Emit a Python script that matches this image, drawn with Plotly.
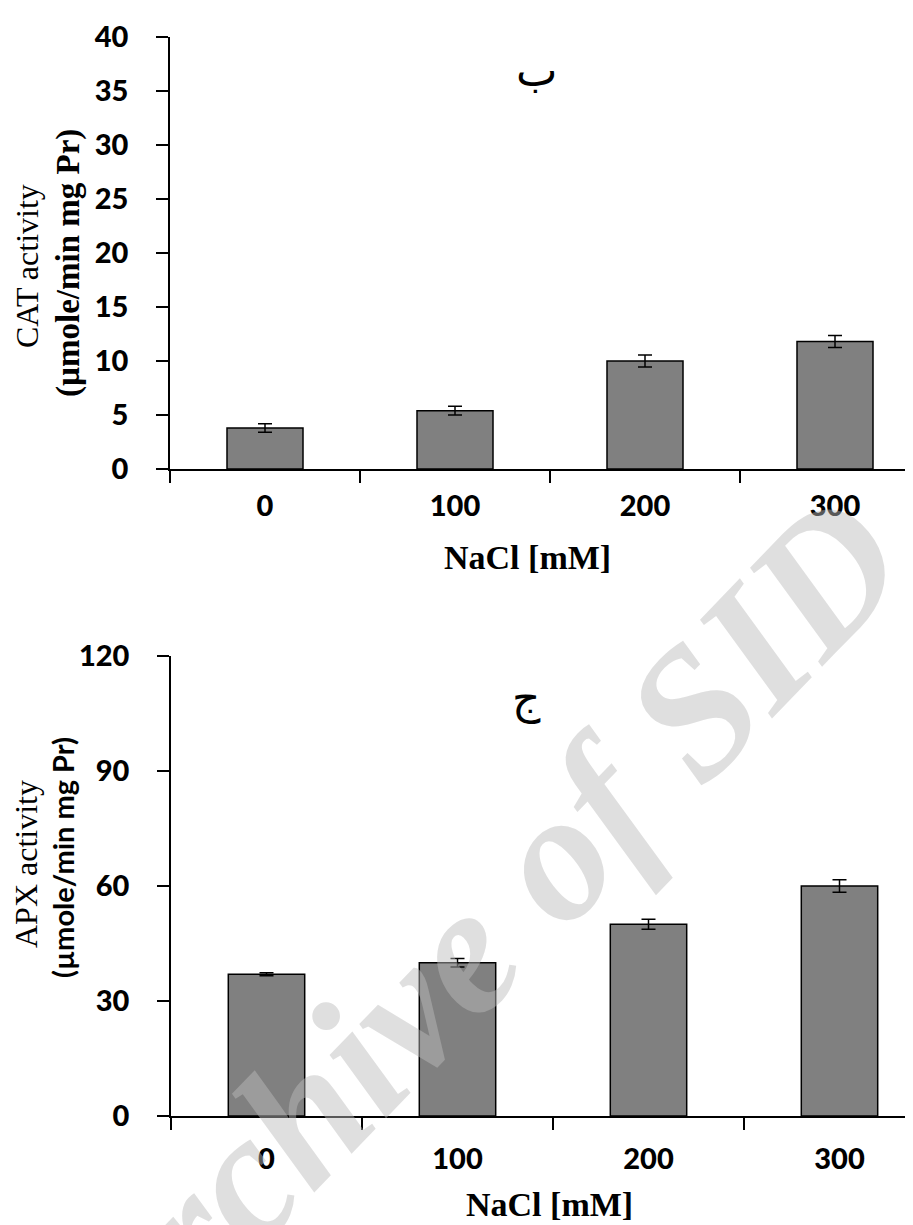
import plotly.graph_objects as go

W, H = 913, 1225

# ---- data ----
nacl = ["0", "100", "200", "300"]
cat_activity = [3.8, 5.4, 10.0, 11.8]
cat_err = [0.4, 0.4, 0.55, 0.55]
apx_activity = [37.0, 40.0, 50.0, 60.0]
apx_err = [0.4, 1.1, 1.3, 1.6]
cat_yticks = [0, 5, 10, 15, 20, 25, 30, 35, 40]
apx_yticks = [0, 30, 60, 90, 120]

BAR = "#808080"
tickfont = dict(family="Lato", size=29, color="black", weight=900)

def px(x):
    return x / W

def py(y):
    return 1 - y / H

fig = go.Figure()
fig.add_trace(go.Bar(
    x=nacl, y=cat_activity, width=0.4, xaxis="x", yaxis="y",
    marker=dict(color=BAR, line=dict(color="black", width=1.5)),
    error_y=dict(type="data", array=cat_err, color="black", thickness=1.5, width=7),
))
fig.add_trace(go.Bar(
    x=nacl, y=apx_activity, width=0.4, xaxis="x2", yaxis="y2",
    marker=dict(color=BAR, line=dict(color="black", width=1.5)),
    error_y=dict(type="data", array=apx_err, color="black", thickness=1.5, width=7),
))

common_x = dict(type="category", tickson="boundaries", ticks="outside", ticklen=12,
                tickwidth=1.5, tickcolor="black", showline=True, linecolor="black",
                linewidth=1.5, showgrid=False, zeroline=False, tickfont=tickfont,
                automargin=False, fixedrange=True)
common_y = dict(ticks="outside", ticklen=12, tickwidth=1.5, tickcolor="black",
                showline=True, linecolor="black", linewidth=1.5, showgrid=False,
                zeroline=False, tickfont=tickfont, ticklabelstandoff=22,
                automargin=False, fixedrange=True)

fig.update_layout(
    width=W, height=H,
    margin=dict(l=0, r=0, t=0, b=0),
    paper_bgcolor="white", plot_bgcolor="white",
    showlegend=False,
    xaxis=dict(domain=[px(162), 1], anchor="y", range=[-0.5, -0.5 + (913 - 162) / 190],
               ticklabelstandoff=10, **common_x),
    yaxis=dict(domain=[py(461), py(29)], anchor="x", range=[0, 40],
               tickvals=cat_yticks, **common_y),
    xaxis2=dict(domain=[px(163), 1], anchor="y2", range=[-0.5, -0.5 + (913 - 163) / 191],
                ticklabelstandoff=16, **common_x),
    yaxis2=dict(domain=[py(1108), py(648)], anchor="x2", range=[0, 120],
                tickvals=apx_yticks, **common_y),
)

serif = "Liberation Serif, Times New Roman, serif"

def note(text, x, y, font, angle=0):
    return dict(text=text, x=px(x), y=py(y), xref="paper", yref="paper",
                xanchor="center", yanchor="middle", showarrow=False,
                textangle=angle, font=font)

ann = [
    # x-axis titles
    note("NaCl [mM]", 519, 549, dict(family=serif, size=34, color="black", weight="bold")),
    note("NaCl [mM]", 541, 1196, dict(family=serif, size=34, color="black", weight="bold")),
    # y-axis titles
    note("CAT activity", 19, 258, dict(family=serif, size=32, color="black"), -90),
    note("(µmole/min mg Pr)", 60, 255,
         dict(family=serif, size=33, color="black", weight="bold"), -90),
    note("APX activity", 18, 856, dict(family=serif, size=32, color="black"), -90),
    note("(µmole/min mg Pr)", 54, 850,
         dict(family="Lato", size=29, color="black", weight="bold"), -90),
    # panel letters
    note("ب", 528, 63, dict(family="DejaVu Sans", size=44, color="black")),
    note("ج", 518, 690, dict(family="DejaVu Sans", size=44, color="black")),
    # watermark
    note("Archive of SID", 462, 934,
         dict(family=serif, size=184, color="rgba(186,186,186,0.47)",
              weight="bold", style="italic"), -46),
]
fig.update_layout(annotations=ann)

fig.write_html("out.html")
